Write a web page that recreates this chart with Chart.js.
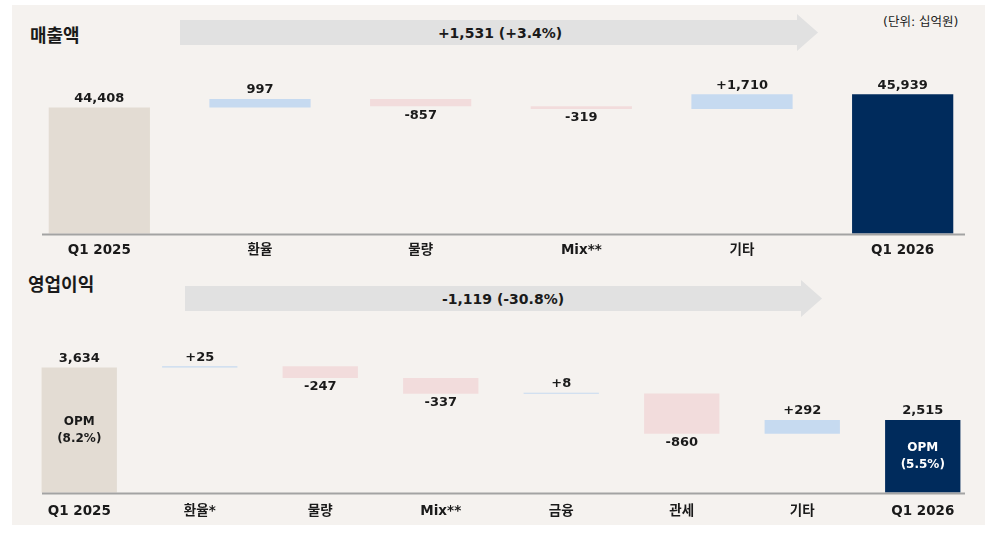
<!DOCTYPE html>
<html>
<head>
<meta charset="utf-8">
<script src="https://cdn.jsdelivr.net/npm/chart.js@4/dist/chart.umd.min.js"></script>
<style>
  html, body { margin: 0; padding: 0; background: #ffffff; }
  body { width: 989px; height: 533px; position: relative; overflow: hidden;
         font-family: 'DejaVu Sans', 'Noto Sans CJK KR', sans-serif; color: #1a1a1a; }
  .panel { position: absolute; left: 12px; top: 5px; width: 973px; height: 520px; background: #f5f2ef; }
  .box { position: absolute; left: 0; width: 989px; }
  .title { position: absolute; font-family: 'Noto Sans CJK KR', sans-serif; font-weight: 700; font-size: 18px; line-height: 20px; }
  .arrow { position: absolute; background: #e1e1e1;
           clip-path: polygon(0 6px, calc(100% - 21px) 6px, calc(100% - 21px) 0, 100% 50%, calc(100% - 21px) 100%, calc(100% - 21px) calc(100% - 6px), 0 calc(100% - 6px)); }
  .arrowText { position: absolute; font-weight: 700; font-size: 14px; line-height: 16px; transform: translate(-50%, -50%); white-space: nowrap; }
  .unit { position: absolute; left: 883px; top: 14px; font-size: 12.5px; line-height: 16px; white-space: nowrap; }
</style>
</head>
<body>
<div class="panel"></div>
<div class="title" style="left:30px; top:24px;">매출액</div>
<div class="title" style="left:28px; top:273px;">영업이익</div>
<div class="unit">(단위: 십억원)</div>
<div class="arrow" style="left:180px; top:14px; width:638px; height:37px;"></div>
<div class="arrowText" style="left:500px; top:33px;">+1,531 (+3.4%)</div>
<div class="arrow" style="left:185px; top:280px; width:637px; height:37px;"></div>
<div class="arrowText" style="left:503px; top:299px;">-1,119 (-30.8%)</div>

<div class="box" style="top:0; height:268px;"><canvas id="salesChart"></canvas></div>
<div class="box" style="top:260px; height:275px;"><canvas id="opChart"></canvas></div>

<script>
// 매출액 (십억원)
const salesCats = ['Q1 2025', '환율', '물량', 'Mix**', '기타', 'Q1 2026'];
const salesValues = [44408, 997, -857, -319, 1710, 45939];
const salesText = ['44,408', '997', '-857', '-319', '+1,710', '45,939'];
const salesTotal = [true, false, false, false, false, true];

// 영업이익 (십억원)
const opCats = ['Q1 2025', '환율*', '물량', 'Mix**', '금융', '관세', '기타', 'Q1 2026'];
const opValues = [3634, 25, -247, -337, 8, -860, 292, 2515];
const opText = ['3,634', '+25', '-247', '-337', '+8', '-860', '+292', '2,515'];
const opTotal = [true, false, false, false, false, false, false, true];
const opInside = [['OPM', '(8.2%)'], null, null, null, null, null, null, ['OPM', '(5.5%)']];

const FONT = "'DejaVu Sans', 'Noto Sans CJK KR', sans-serif";
const C_START = '#e3dcd3', C_END = '#002b5c', C_UP = '#c6daf0', C_DOWN = '#f2dcdc';

function waterfall(values, totals) {
    let run = 0;
    return values.map((v, i) => {
        if (totals[i]) { run = v; return [0, v]; }
        const seg = [run, run + v];
        run += v;
        return seg;
    });
}

function barColors(values, totals) {
    return values.map((v, i) => {
        if (totals[i]) return i === 0 ? C_START : C_END;
        return v >= 0 ? C_UP : C_DOWN;
    });
}

const labelPlugin = {
    id: 'wfLabels',
    afterDatasetsDraw(chart, args, opts) {
        const ctx = chart.ctx;
        const meta = chart.getDatasetMeta(0);
        const area = chart.chartArea;
        ctx.save();
        // base line
        ctx.strokeStyle = '#a3a3a3';
        ctx.lineWidth = 2;
        ctx.beginPath();
        ctx.moveTo(area.left + 23, area.bottom + 1);
        ctx.lineTo(area.right - 18, area.bottom + 1);
        ctx.stroke();

        ctx.textAlign = 'center';
        ctx.textBaseline = 'middle';
        meta.data.forEach((bar, i) => {
            const top = Math.min(bar.y, Math.max(bar.base, area.top));
            const bottom = Math.min(Math.max(bar.y, bar.base), area.bottom);
            ctx.font = 'bold 13px ' + FONT;
            ctx.fillStyle = '#1a1a1a';
            if (opts.values[i] < 0) {
                ctx.fillText(opts.text[i], bar.x, bottom + 9);
            } else {
                ctx.fillText(opts.text[i], bar.x, top - 9);
            }
            if (opts.inside && opts.inside[i]) {
                const mid = (top + bottom) / 2;
                ctx.font = 'bold 12px ' + FONT;
                ctx.fillStyle = i === 0 ? '#1a1a1a' : '#ffffff';
                ctx.fillText(opts.inside[i][0], bar.x, mid - 8);
                ctx.fillText(opts.inside[i][1], bar.x, mid + 9);
            }
        });
        ctx.restore();
    }
};

function makeChart(id, cats, values, text, totals, inside, yMin, yMax, pad, barPct, tickPad) {
    return new Chart(document.getElementById(id).getContext('2d'), {
        type: 'bar',
        data: {
            labels: cats,
            datasets: [{
                data: waterfall(values, totals),
                backgroundColor: barColors(values, totals),
                borderWidth: 0,
                categoryPercentage: 1,
                barPercentage: barPct,
                minBarLength: 1,
                clip: 0
            }]
        },
        options: {
            responsive: true,
            maintainAspectRatio: false,
            animation: false,
            layout: { padding: pad },
            plugins: {
                legend: { display: false },
                tooltip: { enabled: false },
                wfLabels: { values: values, text: text, inside: inside }
            },
            scales: {
                x: {
                    grid: { display: false, drawTicks: false },
                    border: { display: false },
                    ticks: {
                        autoSkip: false,
                        maxRotation: 0,
                        padding: tickPad,
                        color: '#1a1a1a',
                        font: { family: FONT, size: 13.5, weight: 'bold' }
                    }
                },
                y: {
                    display: false,
                    min: yMin,
                    max: yMax
                }
            }
        },
        plugins: [labelPlugin]
    });
}

makeChart('salesChart', salesCats, salesValues, salesText, salesTotal, null,
    29800, 49925, { left: 19, right: 6, top: 60, bottom: 0.4 }, 0.63, 9);
makeChart('opChart', opCats, opValues, opText, opTotal, opInside,
    975, 4646, { left: 19, right: 6, top: 60, bottom: 4.4 }, 0.625, 11);
</script>
</body>
</html>
